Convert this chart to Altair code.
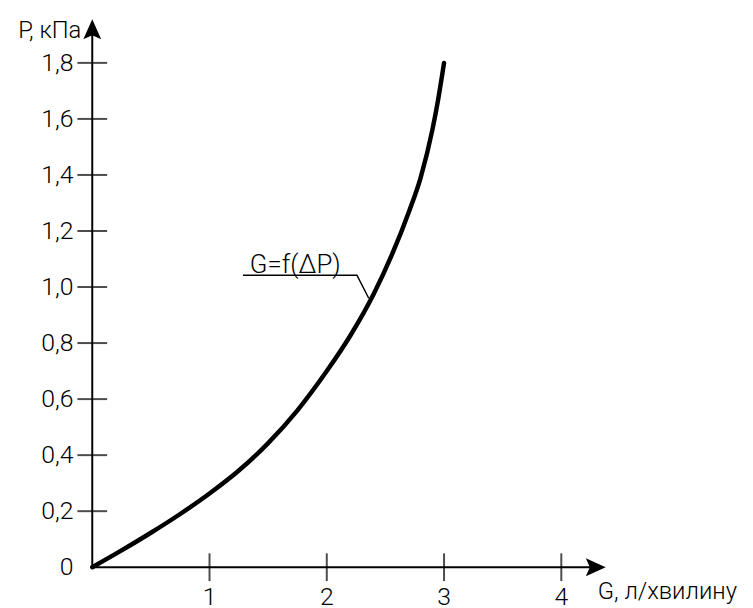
import altair as alt
import pandas as pd

# curve G=f(ΔP)
curve_g = [0, 0.25, 0.5, 0.75, 1.0, 1.25, 1.5, 1.75, 2.0, 2.2, 2.4, 2.55, 2.7, 2.8, 2.9, 2.95, 3.0]
curve_p = [0, 0.060, 0.123, 0.190, 0.263, 0.345, 0.443, 0.560, 0.700, 0.826, 0.975, 1.110, 1.268, 1.390, 1.560, 1.670, 1.800]

x_ticks = [1, 2, 3, 4]
x_tick_labels = ["1", "2", "3", "4"]
y_ticks = [0.2, 0.4, 0.6, 0.8, 1.0, 1.2, 1.4, 1.6, 1.8]
y_label_values = [0, 0.2, 0.4, 0.6, 0.8, 1.0, 1.2, 1.4, 1.6, 1.8]
y_tick_labels = ["0", "0,2", "0,4", "0,6", "0,8", "1,0", "1,2", "1,4", "1,6", "1,8"]

x_title = "G, л/хвилину"
y_title = "P, кПа"
annotation = "G=f(ΔP)"

# leader line of the annotation
leader_g = [1.285, 2.257, 2.358]
leader_p = [1.042, 1.042, 0.960]

G_MAX = 4.4
P_MAX = 1.96
x_axis_end = 4.3
y_axis_end = 1.92

FONT = "Roboto"
FW = 300

xs = alt.Scale(domain=[0, G_MAX], nice=False, zero=False)
ys = alt.Scale(domain=[0, P_MAX], nice=False, zero=False)
X = lambda f: alt.X(f, type="quantitative", scale=xs, axis=None)
Y = lambda f: alt.Y(f, type="quantitative", scale=ys, axis=None)

curve_df = pd.DataFrame({"g": curve_g, "p": curve_p})
curve = alt.Chart(curve_df).mark_line(
    color="black", strokeWidth=4.5, interpolate="monotone", strokeCap="round"
).encode(x=X("g"), y=Y("p"))

axes_df = pd.DataFrame({"g": [0, 0], "p": [0, 0], "g2": [x_axis_end, 0], "p2": [0, y_axis_end]})
axes = alt.Chart(axes_df).mark_rule(color="black", strokeWidth=2).encode(
    x=X("g"), y=Y("p"), x2="g2", y2="p2"
)

xt_df = pd.DataFrame({"g": x_ticks, "p": [0] * len(x_ticks), "lab": x_tick_labels})
xticks = alt.Chart(xt_df).mark_tick(
    orient="vertical", size=28, thickness=2, color="black"
).encode(x=X("g"), y=Y("p"))
xlabels = alt.Chart(xt_df).mark_text(
    font=FONT, fontWeight=FW, fontSize=25, align="center", baseline="top", dy=18, color="black"
).encode(x=X("g"), y=Y("p"), text="lab")

yt_df = pd.DataFrame({"g": [0] * len(y_ticks), "p": y_ticks})
yticks = alt.Chart(yt_df).mark_tick(
    orient="horizontal", size=30, thickness=2, color="black"
).encode(x=X("g"), y=Y("p"))
yl_df = pd.DataFrame({"g": [0] * len(y_label_values), "p": y_label_values, "lab": y_tick_labels})
ylabels = alt.Chart(yl_df).mark_text(
    font=FONT, fontWeight=FW, fontSize=25, align="right", baseline="middle", dx=-19, color="black"
).encode(x=X("g"), y=Y("p"), text="lab")

arrows_df = pd.DataFrame({
    "g": [0, 4.294],
    "p": [1.92, 0],
    "shape": [
        "M0,-1 L0.9,1 L0,0.6 L-0.9,1 Z",
        "M1,0 L-1,0.9 L-0.6,0 L-1,-0.9 Z",
    ],
})
arrows = alt.Chart(arrows_df).mark_point(
    filled=True, color="black", size=400, opacity=1
).encode(x=X("g"), y=Y("p"), shape=alt.Shape("shape:N", scale=None))

titles_df = pd.DataFrame({
    "g": [4.311, 0],
    "p": [0, 1.96],
    "lab": [x_title, y_title],
})
xtitle = alt.Chart(titles_df.iloc[[0]]).mark_text(
    font=FONT, fontWeight=FW, fontSize=24, align="left", baseline="top", dy=13, color="black"
).encode(x=X("g"), y=Y("p"), text="lab")
ytitle = alt.Chart(titles_df.iloc[[1]]).mark_text(
    font=FONT, fontWeight=FW, fontSize=24, align="right", baseline="top", dx=-11, dy=1, color="black"
).encode(x=X("g"), y=Y("p"), text="lab")

leader_df = pd.DataFrame({"g": leader_g, "p": leader_p, "o": [0, 1, 2]})
leader = alt.Chart(leader_df).mark_line(color="black", strokeWidth=1.5).encode(
    x=X("g"), y=Y("p"), order="o"
)
ann_df = pd.DataFrame({"g": [1.344], "p": [1.049], "lab": [annotation]})
ann = alt.Chart(ann_df).mark_text(
    font=FONT, fontWeight=FW, fontSize=26, align="left", baseline="alphabetic", color="black"
).encode(x=X("g"), y=Y("p"), text="lab")

chart = alt.layer(
    axes, xticks, yticks, curve, arrows, xlabels, ylabels, xtitle, ytitle, leader, ann
).properties(
    width=520.5,
    height=554,
    background="white",
    autosize=alt.AutoSizeParams(type="none"),
    padding={"left": 85, "top": 7.5, "right": 138, "bottom": 38.5},
).configure_view(stroke=None)

chart.save("out.html", embed_options={"renderer": "svg", "actions": False})
